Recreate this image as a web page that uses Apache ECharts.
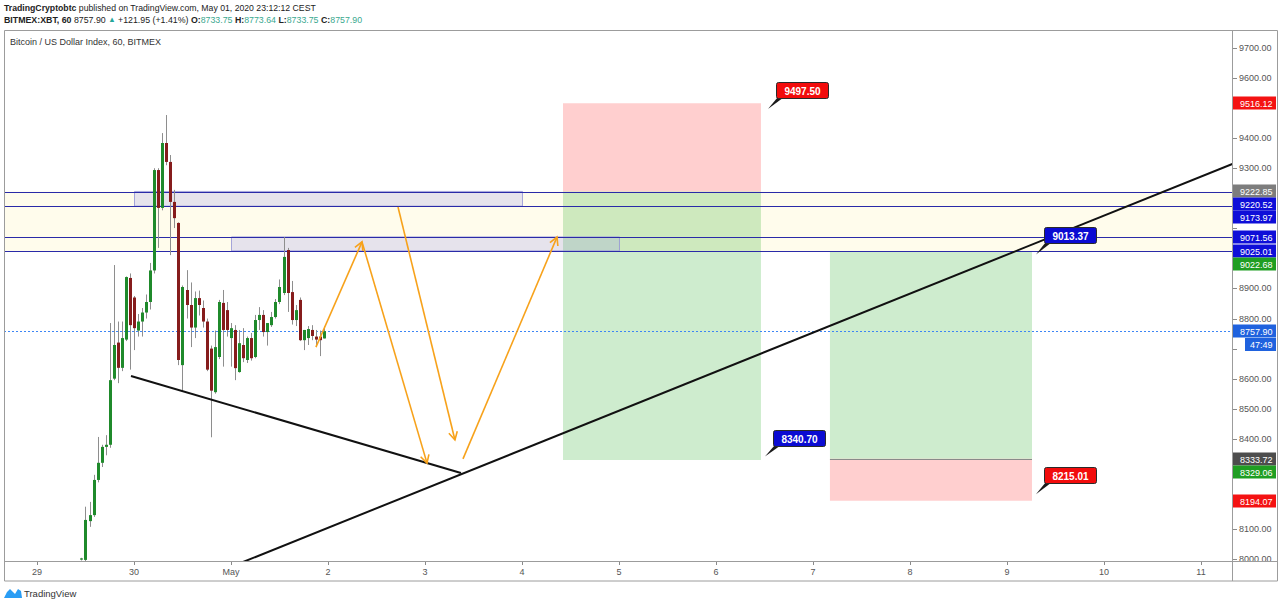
<!DOCTYPE html>
<html><head><meta charset="utf-8">
<script src="https://cdn.jsdelivr.net/npm/echarts@6/dist/echarts.min.js"></script>
<style>html,body{margin:0;padding:0;background:#fff;}#c{width:1280px;height:607px;}</style>
</head><body><div id="c"></div>
<script>
// ---------------- data ----------------
const dayLabels = ['29','30','May','2','3','4','5','6','7','8','9','10','11'];
const dayTicks = [0,1,2,3,4,5,6,7,8,9,10,11,12];
const priceTicks = [8000,8100,8200,8300,8400,8500,8600,8700,8800,8900,9000,9100,9200,9300,9400,9500,9600,9700];
const candleFirstHour = 11; // hourly candles, first one at Apr 29 11:00
// [open, high, low, close]
const candles = [
 [7998,8004,7995,8002],[7997,8174,7993,8130],[8126,8190,8107,8146],[8146,8280,8140,8263],
 [8263,8406,8255,8320],[8320,8380,8306,8373],[8373,8412,8345,8380],[8380,8785,8370,8595],
 [8600,8978,8595,8712],[8720,8790,8585,8636],[8636,8790,8625,8735],[8730,8940,8725,8938],
 [8935,8950,8630,8778],[8870,8875,8695,8768],[8760,8815,8740,8790],[8790,8835,8740,8820],
 [8820,8880,8800,8855],[8855,8985,8830,8960],[8960,9300,8950,9294],[9294,9300,9035,9168],
 [9168,9417,9160,9384],[9384,9477,9310,9321],[9321,9344,9011,9188],[9188,9228,9101,9134],
 [9118,9120,8645,8662],[8645,8910,8560,8905],[8895,8961,8800,8845],[8845,8920,8705,8770],
 [8770,8890,8735,8868],[8868,8893,8810,8845],[8835,8860,8770,8790],[8790,8800,8625,8630],
 [8700,8710,8405,8560],[8555,8760,8550,8705],[8672,8862,8665,8855],[8852,8895,8640,8762],
 [8828,8855,8740,8762],[8735,8785,8640,8768],[8762,8778,8595,8635],[8622,8762,8620,8718],
 [8712,8768,8655,8668],[8662,8740,8652,8735],[8735,8752,8660,8668],[8672,8812,8668,8795],
 [8795,8838,8762,8812],[8812,8828,8740,8755],[8755,8785,8710,8785],[8778,8822,8772,8805],
 [8805,8865,8800,8855],[8855,8930,8848,8905],[8885,9071,8878,9005],[9028,9035,8822,8885],
 [8888,8925,8780,8795],[8795,8845,8775,8828],[8862,8870,8725,8728],[8728,8762,8695,8762],
 [8735,8775,8712,8765],[8762,8778,8728,8742],[8740,8762,8705,8730],[8740,8760,8675,8728],
 [8733.75,8773.64,8733.75,8757.90]
];
const zoneLines = [9220.52, 9173.97, 9071.56, 9025.01];
const zoneBand = [[9025.01, 9222.85]];
// [fromDay, toDay, lowPrice, highPrice]
const zoneRects = [[1.0, 5.0, 9173.97, 9222.85],[2.0, 6.0, 9025.01, 9071.56]];
// [fromDay, toDay, lowPrice, highPrice, kind(0 = stop, 1 = target)]
const positionBoxes = [
 [5.423, 7.464, 9222.85, 9516.12, 0],
 [5.423, 7.464, 8329.06, 9222.85, 1],
 [8.175, 10.258, 8333.72, 9022.68, 1],
 [8.175, 10.258, 8194.07, 8333.72, 0]
];
const entryLines = [[8.175, 10.258, 8333.72]];
// [day1, price1, day2, price2]
const trendLines = [[0.969, 8609, 4.371, 8286],[2.10, 7987, 12.6, 9350]];
const arrows = [
 [2.876, 8705, 3.351, 9055],
 [3.351, 9055, 4.021, 8319],
 [3.722, 9171, 4.309, 8396],
 [4.392, 8333, 5.361, 9071]
];
const callouts = [[7.536, 9497.50],[10.299, 9013.37],[7.505, 8340.70],[10.299, 8215.01]];
const calloutKinds = ['red','blue','blue','red'];
const lastPrice = 8757.90;
const countdown = '47:49';
const axisTags = [
 [9516.12,'stop'],[9222.85,'entryA'],[9220.52,'line'],[9173.97,'line'],[9071.56,'line'],
 [9025.01,'line'],[9022.68,'target'],[8757.90,'last'],[8333.72,'entryB'],[8329.06,'target'],[8194.07,'stop']
];

// ---------------- styles ----------------
const FONT = '"Liberation Sans", Arial, sans-serif';
const tagColors = {stop:'#f41212', entryA:'#7d7d7d', line:'#0e0ed8', target:'#1f9e22', last:'#1f62de', entryB:'#4d4d4d'};
const TAG_H = 13;
const X_MIN = -0.34, X_MAX = 12.32;

const chart = echarts.init(document.getElementById('c'), null, {renderer:'svg', width:1280, height:607});

function stackTags(toY){
  const ys = [];
  axisTags.forEach((t,i)=>{
    let y = toY(t[0]);
    if (i > 0 && y < ys[i-1] + TAG_H) y = ys[i-1] + TAG_H;
    ys.push(y);
  });
  return ys;
}

let hiddenLabels = new Set();

const option = {
  animation: false,
  backgroundColor: '#ffffff',
  grid: {left: 4, right: 48, top: 31, bottom: 46, containLabel: false},
  xAxis: {
    type: 'value', min: X_MIN, max: X_MAX,
    axisLine: {show: false},
    splitLine: {show: false},
    axisTick: {show: false},
    axisLabel: {customValues: dayTicks, showMaxLabel: true, showMinLabel: true, formatter: v => dayLabels[Math.round(v)], color: '#555', fontSize: 9, fontFamily: FONT, margin: 6}
  },
  yAxis: {
    type: 'value', position: 'right', min: 7993.35, max: 9756.6,
    axisLine: {show: false},
    splitLine: {show: false},
    axisTick: {show: false},
    axisLabel: {customValues: priceTicks, formatter: v => hiddenLabels.has(v) ? '' : v.toFixed(2), color: '#555', fontSize: 9, fontFamily: FONT, margin: 7}
  },
  graphic: [
    {type:'rect', shape:{x:4.5, y:30.5, width:1273, height:550.5}, style:{fill:'none', stroke:'#9c9c9c', lineWidth:1}, z:100},
    {type:'line', shape:{x1:4, y1:561.5, x2:1278, y2:561.5}, style:{stroke:'#9c9c9c', lineWidth:1}, z:100},
    {type:'line', shape:{x1:1232.5, y1:30, x2:1232.5, y2:581}, style:{stroke:'#9c9c9c', lineWidth:1}, z:100},
    {type:'text', x:4, y:3, style:{text:'{b|TradingCryptobtc}{n| published on TradingView.com, May 01, 2020 23:12:12 CEST}',
      rich:{b:{fontWeight:'bold', fontSize:8.7, fontFamily:FONT, fill:'#222'}, n:{fontSize:8.7, fontFamily:FONT, fill:'#222'}}}},
    {type:'text', x:4, y:15, style:{text:'{b|BITMEX:XBT, 60}{n| 8757.90 }{g|▲}{n| +121.95 (+1.41%) }{b|O:}{t|8733.75}{b| H:}{t|8773.64}{b| L:}{t|8733.75}{b| C:}{t|8757.90}',
      rich:{b:{fontWeight:'bold', fontSize:8.8, fontFamily:FONT, fill:'#222'}, n:{fontSize:8.8, fontFamily:FONT, fill:'#222'},
            g:{fontSize:7.5, fontFamily:FONT, fill:'#26a69a'}, t:{fontSize:8.8, fontFamily:FONT, fill:'#3aa88f'}}}},
    {type:'text', x:10, y:37, style:{text:'Bitcoin / US Dollar Index, 60, BITMEX', fontSize:9, fontFamily:FONT, fill:'#333'}},
    {type:'polygon', shape:{points:[[4,598],[7,592],[10,589],[13,592],[15,594],[18,589],[21,591],[22,598]]}, style:{fill:'#2a9df4'}},
    {type:'text', x:24, y:588, style:{text:'TradingView', fontSize:9.5, fontFamily:FONT, fill:'#333'}}
  ],
  series: [
    { // pale band between the zone lines
      type:'custom', z:1, clip:true, data: zoneBand, encode:{y:0},
      renderItem(params, api){
        const cs = params.coordSys;
        const y1 = api.coord([0, api.value(1)])[1], y2 = api.coord([0, api.value(0)])[1];
        return {type:'rect', shape:{x:cs.x, y:y1, width:cs.width, height:y2-y1}, style:{fill:'#fffcec'}};
      }
    },
    { // position boxes
      type:'custom', z:2, clip:true, data: positionBoxes, encode:{x:0, y:2},
      renderItem(params, api){
        const a = api.coord([api.value(0), api.value(3)]), b = api.coord([api.value(1), api.value(2)]);
        return {type:'rect', shape:{x:a[0], y:a[1], width:b[0]-a[0], height:b[1]-a[1]},
          style:{fill: api.value(4) === 0 ? 'rgba(255,0,0,0.19)' : 'rgba(10,160,10,0.2)'}};
      }
    },
    { // entry line of the long position
      type:'custom', z:3, clip:true, data: entryLines, encode:{x:0, y:2},
      renderItem(params, api){
        const a = api.coord([api.value(0), api.value(2)]), b = api.coord([api.value(1), api.value(2)]);
        return {type:'line', shape:{x1:a[0], y1:Math.round(a[1])+0.5, x2:b[0], y2:Math.round(a[1])+0.5}, style:{stroke:'#8a8a8a', lineWidth:1}};
      }
    },
    { // lavender rectangles
      type:'custom', z:4, clip:true, data: zoneRects, encode:{x:0, y:2},
      renderItem(params, api){
        const a = api.coord([api.value(0), api.value(3)]), b = api.coord([api.value(1), api.value(2)]);
        return {type:'rect', shape:{x:Math.round(a[0])+0.5, y:a[1], width:b[0]-a[0], height:b[1]-a[1]},
          style:{fill:'rgba(140,140,235,0.22)', stroke:'rgba(150,150,215,0.85)', lineWidth:1}};
      }
    },
    { // horizontal zone lines
      type:'custom', z:5, clip:true, data: zoneLines.map(p => [0, p]), encode:{y:1},
      renderItem(params, api){
        const cs = params.coordSys;
        const y = Math.round(api.coord([0, api.value(1)])[1]) + 0.5;
        return {type:'line', shape:{x1:cs.x, y1:y, x2:cs.x+cs.width, y2:y}, style:{stroke:'#2a2aa8', lineWidth:1}};
      }
    },
    { // last price dotted line
      type:'custom', z:5, clip:true, data: [[0, lastPrice]], encode:{y:1},
      renderItem(params, api){
        const cs = params.coordSys;
        const y = Math.round(api.coord([0, api.value(1)])[1]) + 0.5;
        return {type:'line', shape:{x1:cs.x, y1:y, x2:cs.x+cs.width, y2:y}, style:{stroke:'#3d86f5', lineWidth:1, lineDash:[2,2]}};
      }
    },
    { // candles
      type:'custom', z:6, clip:true,
      data: candles.map((c,i) => [(candleFirstHour + i) / 24, c[0], c[1], c[2], c[3]]),
      encode:{x:0, y:[1,2,3,4]},
      renderItem(params, api){
        const x = api.value(0), o = api.value(1), h = api.value(2), l = api.value(3), c = api.value(4);
        const pO = api.coord([x,o]), pH = api.coord([x,h]), pL = api.coord([x,l]), pC = api.coord([x,c]);
        const cx = Math.round(pO[0]) + 0.5;
        const top = Math.min(pO[1], pC[1]), bot = Math.max(pO[1], pC[1]);
        const up = c >= o;
        return {type:'group', children:[
          {type:'line', shape:{x1:cx, y1:pH[1], x2:cx, y2:pL[1]}, style:{stroke:'#8e8e8e', lineWidth:1}},
          {type:'rect', shape:{x:cx-1.5, y:top, width:3, height:Math.max(1, bot-top)}, style:{fill: up ? '#1f8a2b' : '#861c1c'}}
        ]};
      }
    },
    { // trend lines
      type:'custom', z:7, clip:true, data: trendLines, encode:{x:0, y:1},
      renderItem(params, api){
        const a = api.coord([api.value(0), api.value(1)]), b = api.coord([api.value(2), api.value(3)]);
        return {type:'line', shape:{x1:a[0], y1:a[1], x2:b[0], y2:b[1]}, style:{stroke:'#111', lineWidth:2}};
      }
    },
    { // orange arrows
      type:'custom', z:8, clip:true, data: arrows, encode:{x:0, y:1},
      renderItem(params, api){
        const a = api.coord([api.value(0), api.value(1)]), b = api.coord([api.value(2), api.value(3)]);
        const ang = Math.atan2(b[1]-a[1], b[0]-a[0]), L = 9, s = 0.5;
        const h1 = [b[0]-L*Math.cos(ang-s), b[1]-L*Math.sin(ang-s)];
        const h2 = [b[0]-L*Math.cos(ang+s), b[1]-L*Math.sin(ang+s)];
        return {type:'group', children:[
          {type:'line', shape:{x1:a[0], y1:a[1], x2:b[0], y2:b[1]}, style:{stroke:'#f7a21b', lineWidth:1.6}},
          {type:'polyline', shape:{points:[h1, b, h2]}, style:{stroke:'#f7a21b', lineWidth:1.6, fill:'none'}}
        ]};
      }
    },
    { // callouts
      type:'custom', z:9, clip:false, data: callouts, encode:{x:0, y:1},
      renderItem(params, api){
        const i = params.dataIndex;
        const tip = api.coord([api.value(0), api.value(1)]);
        const bx = Math.round(tip[0] + 8) + 0.5, by = Math.round(tip[1] - 27) + 0.5, bw = 52, bh = 16;
        const red = calloutKinds[i] === 'red';
        return {type:'group', children:[
          {type:'polygon', shape:{points:[[tip[0], tip[1]], [bx+1, by+bh-1], [bx+7, by+bh-1]]}, style:{fill:'#1a1a1a'}},
          {type:'rect', shape:{x:bx, y:by, width:bw, height:bh, r:2}, style:{fill: red ? '#f20c0c' : '#0b0bd2', stroke:'#2a2a2a', lineWidth:1}},
          {type:'text', style:{text: api.value(1).toFixed(2), x: bx + bw/2, y: by + bh/2 + 0.5, align:'center', verticalAlign:'middle', fill:'#fff', font:'bold 10px ' + FONT}}
        ]};
      }
    },
    { // y axis tick marks
      type:'custom', z:10, clip:false, data: priceTicks.map(p => [0, p]), encode:{y:1},
      renderItem(params, api){
        const cs = params.coordSys;
        const y = Math.round(api.coord([0, api.value(1)])[1]) + 0.5;
        const x = cs.x + cs.width + 1;
        return {type:'line', shape:{x1:x, y1:y, x2:x+4, y2:y}, style:{stroke:'#8a8a8a', lineWidth:1}};
      }
    },
    { // x axis tick marks
      type:'custom', z:10, clip:false, data: dayTicks.filter(d => d > X_MIN && d < X_MAX).map(d => [d, 8000]), encode:{x:0},
      renderItem(params, api){
        const cs = params.coordSys;
        const x = Math.round(api.coord([api.value(0), 8000])[0]) + 0.5;
        const y = cs.y + cs.height + 1;
        return {type:'line', shape:{x1:x, y1:y, x2:x, y2:y+3}, style:{stroke:'#8a8a8a', lineWidth:1}};
      }
    },
    { // price tags on the axis
      type:'custom', z:20, clip:false, data: axisTags.map(t => [0, t[0]]), encode:{y:1},
      renderItem(params, api){
        const i = params.dataIndex, cs = params.coordSys;
        const ys = stackTags(p => api.coord([0, p])[1]);
        const y = Math.round(ys[i]);
        const x = cs.x + cs.width + 1;
        const kind = axisTags[i][1];
        const kids = [
          {type:'rect', shape:{x:x, y:y-6.5, width:43, height:TAG_H}, style:{fill: tagColors[kind]}},
          {type:'text', style:{text: api.value(1).toFixed(2), x: x+7, y: y+0.5, align:'left', verticalAlign:'middle', fill:'#fff', font:'9px ' + FONT}}
        ];
        if (kind === 'last') {
          kids.push({type:'rect', shape:{x:x+12, y:y+7, width:31, height:TAG_H}, style:{fill: tagColors.last}});
          kids.push({type:'text', style:{text: countdown, x: x+17, y: y+13.5, align:'left', verticalAlign:'middle', fill:'#fff', font:'9px ' + FONT}});
        }
        return {type:'group', children: kids};
      }
    }
  ]
};
chart.setOption(option);

// hide the axis labels that the price tags cover (as the platform does)
const toY = p => chart.convertToPixel({yAxisIndex: 0}, p);
const tagYs = stackTags(toY);
const tagBoxes = [];
tagYs.forEach((y, i) => {
  tagBoxes.push([y - TAG_H/2, y + TAG_H/2]);
  if (axisTags[i][1] === 'last') tagBoxes.push([y + 7, y + 7 + TAG_H]);
});
hiddenLabels = new Set(priceTicks.filter(p => {
  const y = toY(p);
  return tagBoxes.some(b => Math.min(b[1], y + 5) - Math.max(b[0], y - 5) > 2);
}));
chart.setOption({yAxis: {axisLabel: {formatter: v => hiddenLabels.has(v) ? '' : v.toFixed(2)}}});
</script>
</body></html>
